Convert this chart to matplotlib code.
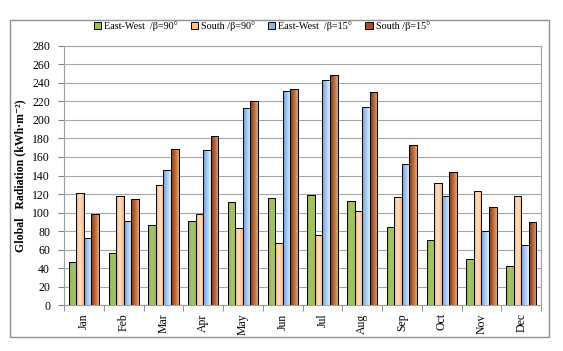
import numpy as np
import matplotlib
matplotlib.use("Agg")
import matplotlib.pyplot as plt
from matplotlib.colors import LinearSegmentedColormap
from matplotlib.patches import Rectangle

months = ["Jan", "Feb", "Mar", "Apr", "May", "Jun", "Jul", "Aug", "Sep", "Oct", "Nov", "Dec"]
series_names = ["East-West  /β=90°", "South /β=90°", "East-West  /β=15°", "South /β=15°"]
ew90 = [46, 56, 86, 91, 111, 116, 119, 112, 84, 70, 50, 42]
s90 = [121, 118, 130, 98, 83, 67, 76, 102, 117, 132, 123, 118]
ew15 = [72, 91, 146, 168, 213, 231, 243, 214, 152, 118, 80, 65]
s15 = [98, 115, 169, 183, 221, 234, 249, 230, 173, 144, 106, 90]
yticks = list(range(0, 281, 20))

plt.rcParams['font.family'] = ['Liberation Serif', 'DejaVu Serif']

grads = [
    ["#8FB050", "#A6C46A", "#9BBB59"],
    ["#F8B27A", "#FFE0C4", "#F7B07A"],
    ["#6A9DDC", "#A9C8F0", "#DCE9FA"],
    ["#7E3510", "#B8683A", "#E0A478"],
]
legend_cols = ["#9BBB59", "#FAC090", "#8DB4E2", "#A0522D"]

fig = plt.figure(figsize=(5.63, 3.51), dpi=100)
fig.patches.append(Rectangle((0.0178, 0.040), 0.958, 0.903, transform=fig.transFigure,
                             fill=False, edgecolor="#909090", linewidth=1.0))
ax = fig.add_axes([0.1137, 0.131, 0.8473, 0.738])

data = [ew90, s90, ew15, s15]
n = len(months)
x = np.arange(n)
w = 0.19
offsets = (np.arange(4) - 1.5) * w
for i, vals in enumerate(data):
    bars = ax.bar(x + offsets[i], vals, width=w, color=legend_cols[i], edgecolor="black",
                  linewidth=0.7, zorder=3, label=series_names[i])
    cmap = LinearSegmentedColormap.from_list("g%d" % i, grads[i])
    grad = np.linspace(0, 1, 64).reshape(1, -1)
    for b in bars:
        bx, by = b.get_x(), b.get_y()
        bw, bh = b.get_width(), b.get_height()
        im = ax.imshow(grad, cmap=cmap, aspect="auto", extent=[bx, bx + bw, by, by + bh],
                       zorder=3.5, interpolation="bilinear")
        im.set_clip_path(b)
        r = Rectangle((bx, by), bw, bh, fill=False, edgecolor="black", linewidth=0.7, zorder=4)
        ax.add_patch(r)

ax.set_xlim(-0.5, n - 0.5)
ax.set_ylim(0, 280)
ax.set_yticks(yticks)
ax.set_yticklabels([str(v) for v in yticks], fontsize=8.5)
ax.set_xticks(x)
ax.set_xticklabels(months, rotation=90, fontsize=8.5)
ax.set_xticks(np.arange(-0.5, n, 1), minor=True)
ax.tick_params(axis="x", which="major", length=0, pad=6)
ax.tick_params(axis="x", which="minor", length=4, color="#808080", direction="out")
ax.tick_params(axis="y", length=4, color="#808080", pad=6)
ax.grid(axis="y", color="#A6A6A6", linewidth=0.8, zorder=0)
for s in ax.spines.values():
    s.set_color("#A0A0A0")
    s.set_linewidth(0.8)
ax.set_ylabel("Global   Radiation (kWh·m⁻²)", fontsize=8.5, fontweight="bold", labelpad=4)

leg = fig.legend(handles=ax.containers, labels=series_names, loc="center",
                 bbox_to_anchor=(0.465, 0.926), ncol=4, frameon=False, fontsize=7.3,
                 handlelength=0.7, handleheight=0.7, handletextpad=0.3, columnspacing=1.3)
fig.savefig("out.png", dpi=100)
